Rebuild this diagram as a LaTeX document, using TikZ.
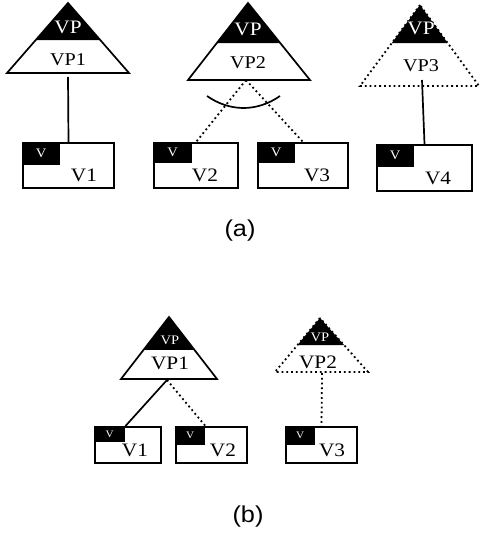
\documentclass[tikz,border=0pt]{standalone}
\usepackage{fontspec}
\setmainfont[FakeStretch=1.12]{Liberation Serif}
\newfontfamily\capfont[FakeStretch=1.1]{Liberation Sans}
\usepackage{tikz}
\usetikzlibrary{calc}

\tikzset{
  tri/.style={line width=1.7pt, line join=miter},
  dottri/.style={line width=1.8pt, dash pattern=on 1.8pt off 3pt},
  dotline/.style={line width=1.8pt, dash pattern=on 1.8pt off 3pt},
  solidline/.style={line width=1.7pt},
  vbox/.style={draw, line width=1.9pt, inner sep=0pt},
  vtag/.style={fill=black, text=white, inner sep=0pt, anchor=north west},
  headvp/.style={inner sep=0pt, text=white, font=\fontsize{19}{19}\selectfont},
  big/.style={inner sep=0pt, font=\fontsize{18}{18}\selectfont},
  bigger/.style={inner sep=0pt, font=\fontsize{19}{19}\selectfont},
  small/.style={inner sep=0pt, font=\fontsize{13}{13}\selectfont},
  tiny/.style={inner sep=0pt, font=\fontsize{10}{10}\selectfont},
  caption/.style={inner sep=0pt, font=\capfont\fontsize{23}{23}\selectfont}
}

\begin{document}
\begin{tikzpicture}[x=1pt, y=-1pt]
\useasboundingbox (0,0) rectangle (480,535);

% (a) ------------------------------------------------------------
% VP1
\coordinate (a1top) at (68,3);
\coordinate (a1left) at (7,73);
\coordinate (a1right) at (129,73);
\draw[tri] (a1top) -- (a1left) -- (a1right) -- cycle;
\fill (a1top) -- ($(a1top)!0.53!(a1left)$) -- ($(a1top)!0.53!(a1right)$) -- cycle;
\node[headvp] (a1vp) at (68,27) {VP};
\node[big] (a1name) at (68,60) {VP1};
\coordinate (a1foot) at (68,77);

% VP2
\coordinate (a2top) at (248,3);
\coordinate (a2left) at (188,80);
\coordinate (a2right) at (310,80);
\draw[tri] (a2top) -- (a2left) -- (a2right) -- cycle;
\fill (a2top) -- ($(a2top)!0.52!(a2left)$) -- ($(a2top)!0.52!(a2right)$) -- cycle;
\node[headvp] (a2vp) at (248,29) {VP};
\node[big] (a2name) at (248,63) {VP2};
\coordinate (a2foot) at (246,80);

% VP3 (dotted)
\coordinate (a3top) at (420,5);
\coordinate (a3left) at (360,86);
\coordinate (a3right) at (479,86);
\fill (a3top) -- ($(a3top)!0.47!(a3left)$) -- ($(a3top)!0.47!(a3right)$) -- cycle;
\draw[dottri] (a3top) -- (a3left) -- (a3right) -- cycle;
\node[headvp] (a3vp) at (421,28) {VP};
\node[big] (a3name) at (421,66) {VP3};
\coordinate (a3foot) at (422,80);

% verb boxes
\node[vbox, minimum width=91pt, minimum height=45pt] (v1box) at (68.5,165.5) {};
\node[vtag, small, minimum width=38pt, minimum height=23pt] (v1tag) at (v1box.north west) {V};
\node[bigger] (v1name) at (84,175) {V1};

\node[vbox, minimum width=84pt, minimum height=45pt] (v2box) at (196,165.5) {};
\node[vtag, small, minimum width=39pt, minimum height=21pt] (v2tag) at (v2box.north west) {V};
\node[bigger] (v2name) at (205,175) {V2};

\node[vbox, minimum width=90pt, minimum height=45pt] (v3box) at (303,165.5) {};
\node[vtag, small, minimum width=38pt, minimum height=21pt] (v3tag) at (v3box.north west) {V};
\node[bigger] (v3name) at (317,175) {V3};

\node[vbox, minimum width=95pt, minimum height=46pt] (v4box) at (424.5,168) {};
\node[vtag, small, minimum width=38pt, minimum height=23pt] (v4tag) at (v4box.north west) {V};
\node[bigger] (v4name) at (438,178) {V4};

% links
\draw[solidline] (a1foot) -- (v1box.north);
\draw[dotline] (a2foot) -- (v2box.north);
\draw[dotline] (a2foot) -- (v3box.north);
\draw[solidline] (a3foot) -- (v4box.north);
\draw[solidline] (207,96) .. controls (230,112) and (257,112) .. (280,96);

\node[caption] (capa) at (240,231) {(a)};

% (b) ------------------------------------------------------------
\coordinate (b1top) at (169,317);
\coordinate (b1left) at (121,379);
\coordinate (b1right) at (217,379);
\draw[tri] (b1top) -- (b1left) -- (b1right) -- cycle;
\fill (b1top) -- ($(b1top)!0.53!(b1left)$) -- ($(b1top)!0.53!(b1right)$) -- cycle;
\node[small, text=white] (b1vp) at (170,340) {VP};
\node[bigger] (b1name) at (170,363) {VP1};
\coordinate (b1foot) at (167,380);

\coordinate (b2top) at (320,318);
\coordinate (b2left) at (275,372);
\coordinate (b2right) at (368,372);
\fill (b2top) -- ($(b2top)!0.5!(b2left)$) -- ($(b2top)!0.5!(b2right)$) -- cycle;
\draw[dottri] (b2top) -- (b2left) -- (b2right) -- cycle;
\node[small, text=white] (b2vp) at (320,337) {VP};
\node[bigger] (b2name) at (318,362) {VP2};
\coordinate (b2foot) at (322,373);

\node[vbox, minimum width=66pt, minimum height=36pt] (w1box) at (128,445) {};
\node[vtag, tiny, minimum width=31pt, minimum height=16pt] (w1tag) at (w1box.north west) {V};
\node[bigger] (w1name) at (135,450) {V1};

\node[vbox, minimum width=71pt, minimum height=36pt] (w2box) at (211.5,445) {};
\node[vtag, tiny, minimum width=30pt, minimum height=19pt] (w2tag) at (w2box.north west) {V};
\node[bigger] (w2name) at (223,450) {V2};

\node[vbox, minimum width=71pt, minimum height=36pt] (w3box) at (321.5,445) {};
\node[vtag, tiny, minimum width=30pt, minimum height=19pt] (w3tag) at (w3box.north west) {V};
\node[bigger] (w3name) at (332,450) {V3};

\draw[solidline] (b1foot) -- (w1tag.north east);
\draw[dotline] (b1foot) -- (w2tag.north east);
\draw[dotline] (b2foot) -- (w3box.north);

\node[caption] (capb) at (248,517) {(b)};
\end{tikzpicture}
\end{document}
